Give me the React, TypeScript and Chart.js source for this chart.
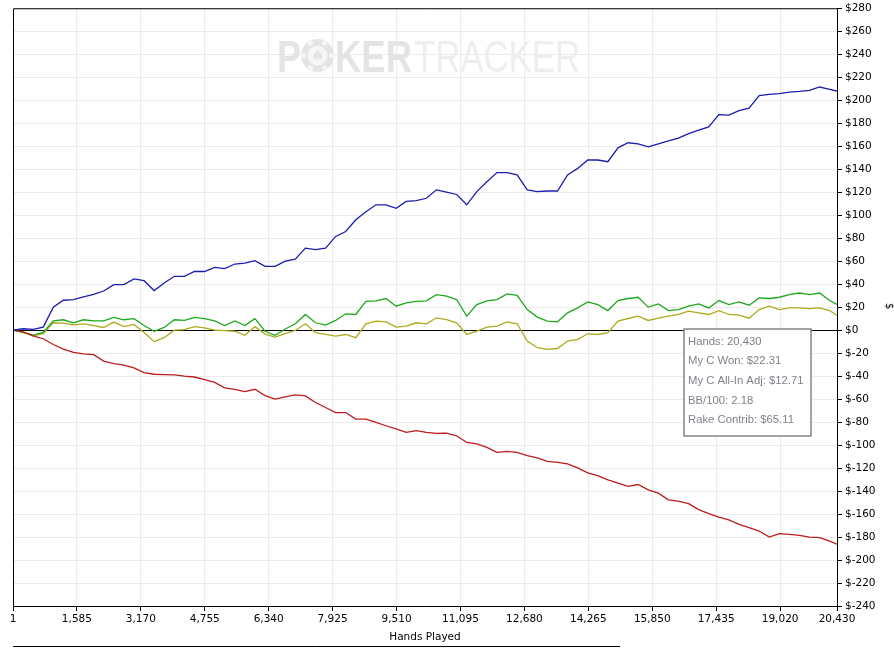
import { useEffect, useRef } from "react";
import { Chart, registerables, type Plugin } from "chart.js";

Chart.register(...registerables);

// hands are sampled every 250, last sample is the final hand
const HAND_STEP = 250;
const LAST_HAND = 20430;
const X_TICKS = [1, 1585, 3170, 4755, 6340, 7925, 9510, 11095, 12680, 14265, 15850, 17435, 19020, 20430];

const NET_WON = [
  0, 1.2, 0.6, 2.6, 20, 26, 26.6, 29, 31, 34, 39.6, 39.6, 44.5, 43, 34.4, 41, 46.8, 46.8, 51, 51,
  54.6, 53.5, 57.5, 58.3, 60.4, 55.5, 55.5, 60, 61.8, 71.3, 70, 71.3, 81.5, 85.8, 96, 103, 109, 109,
  106, 112, 112.7, 114.7, 122, 120, 118, 109, 120.5, 129, 137, 137, 135, 122, 120.5, 121, 121, 135,
  140.7, 148, 148, 146.5, 158.6, 163, 162, 159.5, 162, 164.7, 167, 171, 174, 176.8, 187.5, 187, 191,
  193, 204, 205, 205.7, 207, 207.7, 208.6, 211.5, 209.5, 208,
];
const RAKE = [
  0, -1.5, -5, -7.5, -12.5, -16.5, -19.3, -20.7, -21.3, -27, -29.2, -30.4, -32.8, -37, -38.4, -38.7,
  -39, -40, -40.8, -43, -45.5, -50.2, -51.5, -53.5, -51.5, -57, -60, -58, -56.3, -57.2, -63, -67.3,
  -71.7, -71.7, -77.4, -77.4, -80.3, -83.2, -86, -89, -87.5, -89, -89.9, -89.6, -91.9, -97.7, -99,
  -102, -106.3, -105.5, -106.3, -109.2, -111.2, -114.1, -115, -116.4, -119.9, -124.2, -126.5, -130.3,
  -133.2, -136, -134.3, -138.9, -141.8, -147.6, -148.8, -151, -156.2, -159.7, -162.6, -165, -169,
  -171.9, -174.8, -180, -177, -177.7, -178.5, -180, -180.5, -183.5, -186.3,
];
const MY_C_WON = [
  0, -2, -4.3, -2, 8, 9, 6.4, 9, 8, 8, 11, 9, 10, 4, -1, 2.3, 9, 8.5, 11, 10, 8, 4, 8, 4, 10, -1,
  -4.5, 1, 5.5, 13.6, 6.4, 4.3, 8.4, 14.2, 13.6, 25, 25.4, 27.5, 20.8, 23.7, 25, 25.4, 30.9, 29.5,
  26.6, 12.1, 22.2, 25.4, 26.6, 31.5, 30.3, 17.9, 11.3, 7.8, 7.2, 15, 19.3, 24.5, 22.2, 17, 25.7,
  27.5, 28.6, 20, 22.8, 17, 17.9, 20.8, 22.8, 19.3, 25.7, 22.2, 24.5, 21.7, 28, 27.5, 28.6, 30.9,
  32.3, 30.9, 32.3, 25.7, 22.31,
];
const ALL_IN_ADJ = [
  0, -2, -5, -3, 6.4, 6, 4.5, 5.5, 4, 2.3, 7, 3, 5, -2, -10, -6.6, 0, 0.5, 3, 2, 0, -0.5, -1, -4.5,
  3, -3.5, -6, -3, -0.3, 5.5, -2.3, -3.8, -5.2, -3.8, -6.6, 5.5, 7.8, 7.2, 2.6, 3.5, 6.4, 5.5, 10.7,
  9.2, 6.4, -3.8, -0.9, 2.6, 3.5, 7.2, 5.5, -9.5, -15.3, -16.8, -16, -9.5, -8.1, -3.2, -3.8, -2.3,
  7.8, 10.1, 12.1, 8.4, 10.4, 12.1, 13.6, 16.5, 15, 13.6, 17, 13.6, 13, 10.4, 17.9, 20.8, 17.9, 19.3,
  19.3, 18.7, 19.3, 17, 12.71,
];

const TOOLTIP_LINES = [
  "Hands: 20,430",
  "My C Won: $22.31",
  "My C All-In Adj: $12.71",
  "BB/100: 2.18",
  "Rake Contrib: $65.11",
];

const hands = NET_WON.map((_, i) => Math.max(1, Math.min(i * HAND_STEP, LAST_HAND)));
const toPoints = (vals: number[]) => vals.map((y, i) => ({ x: hands[i], y }));

const axisFont = { family: "'DejaVu Sans', sans-serif", size: 10.5, lineHeight: 1 };

// watermark behind the lines
const watermark: Plugin = {
  id: "watermark",
  beforeDatasetsDraw(chart) {
    const ctx = chart.ctx;
    ctx.save();
    ctx.textBaseline = "alphabetic";
    ctx.textAlign = "left";
    ctx.font = "bold 44px 'Liberation Sans', sans-serif";
    ctx.fillStyle = "#e4e4e4";
    ctx.fillText("P", 277, 72, 24);
    ctx.fillText("KER", 335, 72, 77);
    // chip as the O
    const cx = 317.5, cy = 55.5;
    ctx.beginPath();
    ctx.arc(cx, cy, 16.5, 0, Math.PI * 2);
    ctx.fill();
    ctx.strokeStyle = "#f6f6f6";
    ctx.lineWidth = 4;
    for (let i = 0; i < 6; i++) {
      const a = (i * Math.PI) / 3;
      ctx.beginPath();
      ctx.arc(cx, cy, 14, a - 0.18, a + 0.18);
      ctx.stroke();
    }
    ctx.fillStyle = "#f6f6f6";
    ctx.beginPath();
    ctx.arc(cx, cy, 10, 0, Math.PI * 2);
    ctx.fill();
    ctx.fillStyle = "#e4e4e4";
    ctx.font = "16px 'DejaVu Sans', sans-serif";
    ctx.textAlign = "center";
    ctx.textBaseline = "middle";
    ctx.fillText("\u2660", cx, cy + 1);
    ctx.textAlign = "left";
    ctx.textBaseline = "alphabetic";
    ctx.font = "44px 'Liberation Sans', sans-serif";
    ctx.fillStyle = "#eeeeee";
    ctx.fillText("TRACKER", 414, 72, 166);
    ctx.restore();
  },
};

// frame, info box, side label, bottom rule
const extras: Plugin = {
  id: "extras",
  afterDatasetsDraw(chart) {
    const { ctx, chartArea } = chart;
    ctx.save();
    ctx.strokeStyle = "#000";
    ctx.lineWidth = 1;
    ctx.beginPath();
    ctx.moveTo(chartArea.left + 0.5, chartArea.bottom);
    ctx.lineTo(chartArea.left + 0.5, chartArea.top + 0.5);
    ctx.lineTo(chartArea.right, chartArea.top + 0.5);
    ctx.stroke();
    ctx.restore();
  },
  afterDraw(chart) {
    const ctx = chart.ctx;
    ctx.save();
    ctx.fillStyle = "#ffffff";
    ctx.fillRect(684, 329, 127, 107);
    ctx.strokeStyle = "#858585";
    ctx.lineWidth = 1.5;
    ctx.strokeRect(684, 329, 127, 107);
    ctx.fillStyle = "#80808c";
    ctx.font = "11.3px 'Liberation Sans', sans-serif";
    ctx.textBaseline = "middle";
    ctx.textAlign = "left";
    TOOLTIP_LINES.forEach((t, i) => ctx.fillText(t, 688, 341.5 + i * 19.7));

    ctx.fillStyle = "#000";
    ctx.font = "10.5px 'DejaVu Sans', sans-serif";
    ctx.translate(889, 306);
    ctx.rotate(Math.PI / 2);
    ctx.textAlign = "center";
    ctx.fillText("$", 0, 0);
    ctx.restore();

    ctx.save();
    ctx.strokeStyle = "#000";
    ctx.lineWidth = 1;
    ctx.beginPath();
    ctx.moveTo(13, 646.5);
    ctx.lineTo(620, 646.5);
    ctx.stroke();
    ctx.restore();
  },
};

export default function App() {
  const canvasRef = useRef<HTMLCanvasElement | null>(null);
  const chartRef = useRef<Chart | null>(null);

  useEffect(() => {
    if (!canvasRef.current) return;
    if (chartRef.current) chartRef.current.destroy();

    chartRef.current = new Chart(canvasRef.current, {
      type: "line",
      data: {
        datasets: [
          { label: "Net Won", data: toPoints(NET_WON), borderColor: "#1c1cb0" },
          { label: "Rake", data: toPoints(RAKE), borderColor: "#bc1c1c" },
          { label: "My C Won", data: toPoints(MY_C_WON), borderColor: "#1ea81e" },
          { label: "My C All-In Adj", data: toPoints(ALL_IN_ADJ), borderColor: "#aeaa1c" },
        ],
      },
      options: {
        animation: false,
        responsive: false,
        devicePixelRatio: 1,
        layout: { padding: { left: 13, top: 6, right: 0, bottom: 0 } },
        elements: {
          point: { radius: 0 },
          line: { borderWidth: 1.3, tension: 0 },
        },
        plugins: {
          legend: { display: false },
          tooltip: { enabled: false },
        },
        scales: {
          x: {
            type: "linear",
            min: 1,
            max: LAST_HAND,
            afterBuildTicks: (s) => {
              s.ticks = X_TICKS.map((v) => ({ value: v }));
            },
            afterFit: (s) => {
              s.height = 42;
            },
            grid: { color: "#ebebeb", tickColor: "#000", tickLength: 5 },
            border: { color: "#000" },
            ticks: {
              color: "#000",
              font: axisFont,
              padding: 3,
              maxRotation: 0,
              autoSkip: false,
              callback: (v) => Number(v).toLocaleString("en-US"),
            },
            title: {
              display: true,
              text: "Hands Played",
              color: "#000",
              font: { family: "'DejaVu Sans', sans-serif", size: 10.5 },
              padding: { top: 0, bottom: 4 },
            },
          },
          y: {
            position: "right",
            min: -240,
            max: 280,
            afterFit: (s) => {
              s.width = 57;
            },
            grid: {
              color: (c) => (c.tick && c.tick.value === 0 ? "#000" : "#ebebeb"),
              tickColor: "#000",
              tickLength: 5,
            },
            border: { color: "#000" },
            ticks: {
              stepSize: 20,
              color: "#000",
              font: axisFont,
              padding: 3,
              callback: (v) => "$" + v,
            },
          },
        },
      },
      plugins: [watermark, extras],
    });

    return () => {
      chartRef.current?.destroy();
      chartRef.current = null;
    };
  }, []);

  return (
    <div style={{ position: "absolute", left: 0, top: 0, width: 894, height: 648, background: "#fff" }}>
      <canvas ref={canvasRef} width={894} height={648} style={{ display: "block" }} />
    </div>
  );
}
